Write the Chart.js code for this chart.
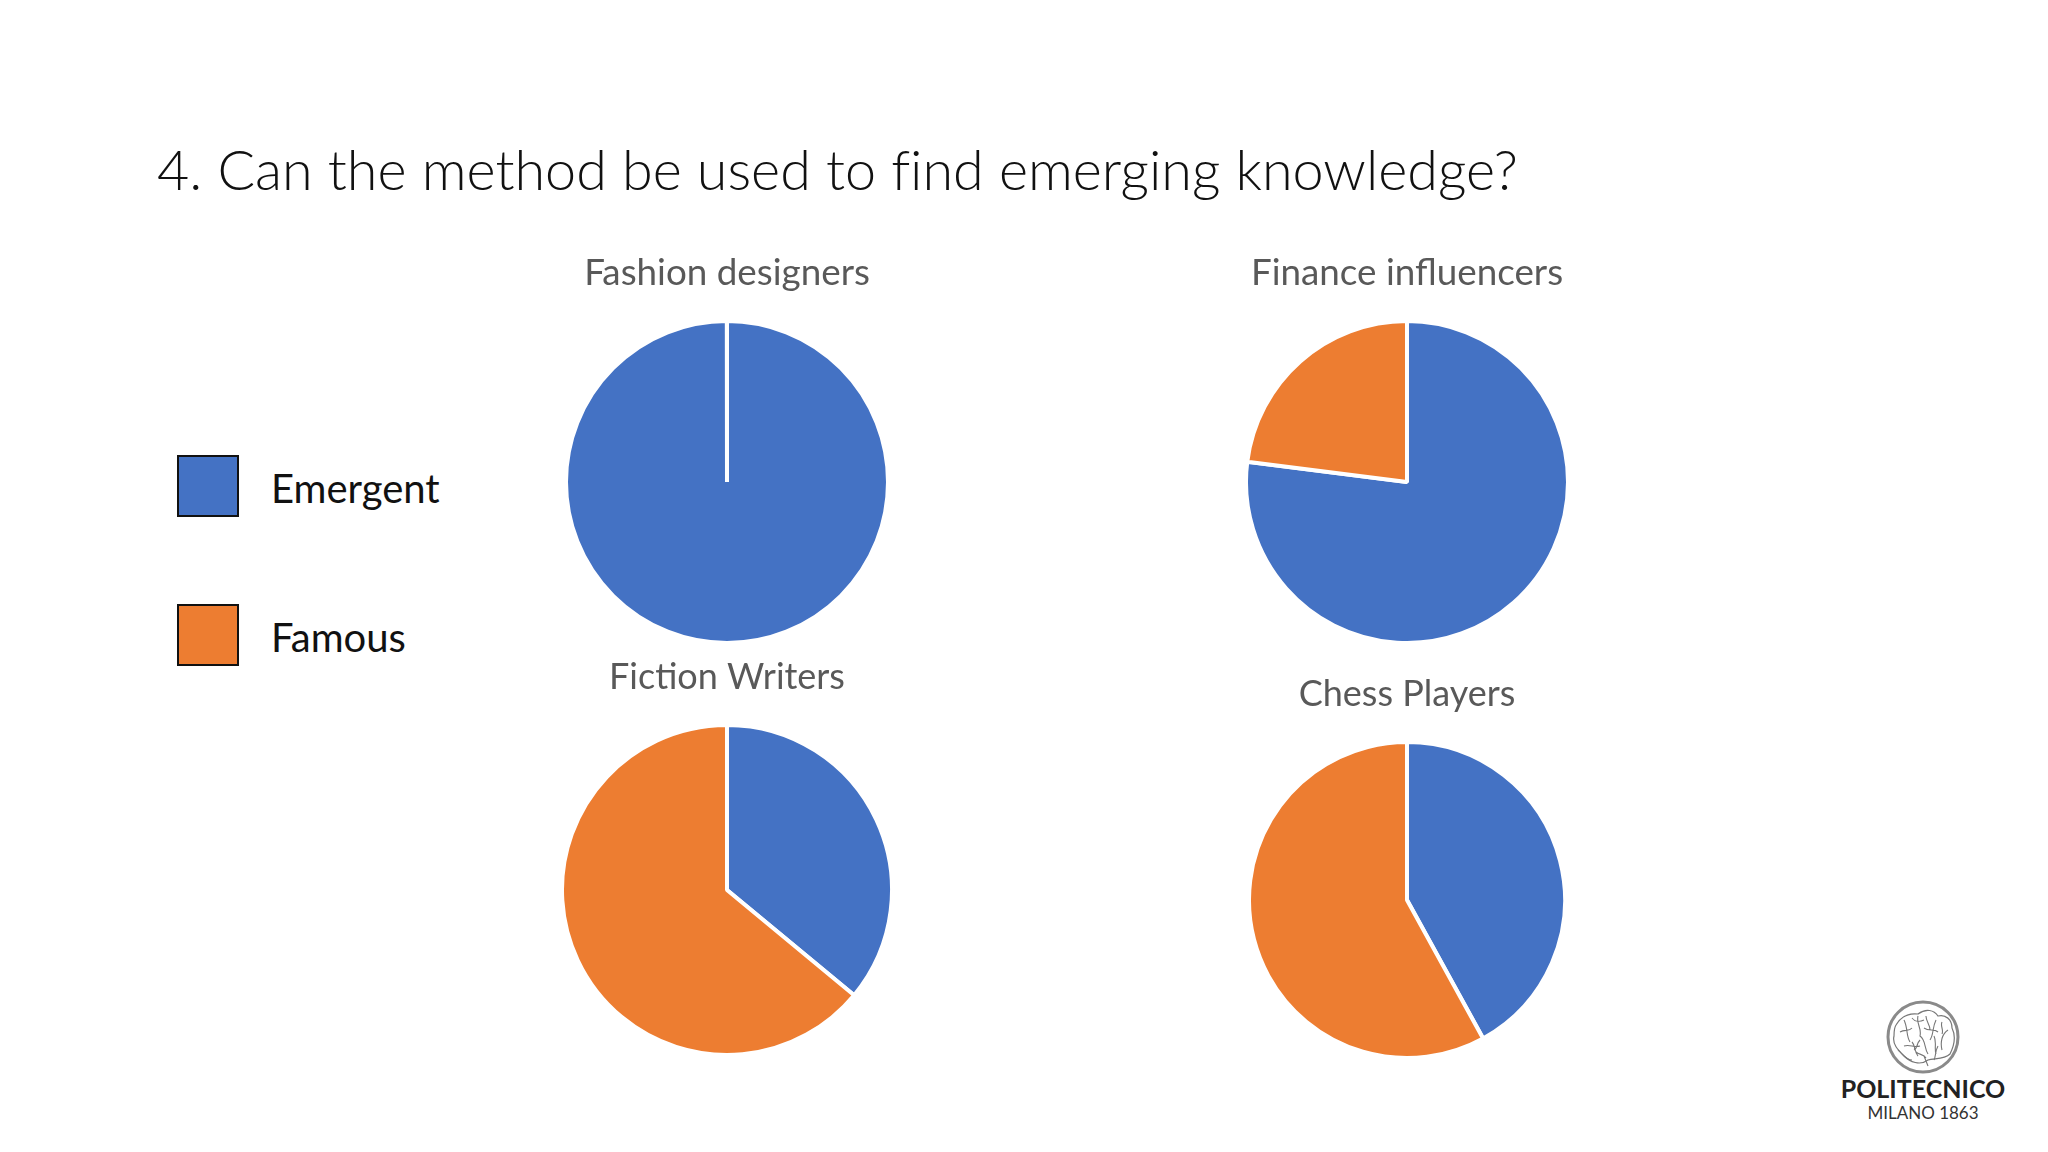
<!DOCTYPE html>
<html>
<head>
<meta charset="utf-8">
<title>Emerging knowledge</title>
<script src="https://cdn.jsdelivr.net/npm/chart.js@4"></script>
<style>
html, body { margin: 0; padding: 0; background: #fff; }
body { width: 2048px; height: 1152px; position: relative; overflow: hidden; font-family: Lato, "Open Sans", sans-serif; }
canvas { position: absolute; }
#heading { position: absolute; left: 157px; top: 133px; margin: 0; font-size: 55.7px; font-weight: 300; line-height: 72px; color: #111; white-space: nowrap; font-variant-ligatures: none; }
.swatch { position: absolute; left: 177px; width: 58px; height: 58px; border: 2px solid #111; }
.legend-label { position: absolute; left: 271px; font-size: 40px; line-height: 46px; color: #111; white-space: nowrap; }
#logo { position: absolute; left: 1800px; top: 980px; width: 248px; height: 172px; }
</style>
</head>
<body>
<h1 id="heading">4. Can the method be used to find emerging knowledge?</h1>
<div id="legend"></div>
<canvas id="pie0"></canvas>
<canvas id="pie1"></canvas>
<canvas id="pie2"></canvas>
<canvas id="pie3"></canvas>
<svg id="logo" viewBox="0 0 248 172">
  <circle cx="123" cy="57" r="35" fill="none" stroke="#8a8a8a" stroke-width="3"/>
  <path d="M96 45c6-10 14-12 22-11 8-6 16-4 20 2 8-2 14 4 14 12 4 8 2 18-2 26-6 6-16 4-22 6-8 6-18 2-24-4-6-6-12-12-10-20 0-4 0-8 2-11z" fill="none" stroke="#777" stroke-width="1.2"/>
  <path d="M104 40c4 8 2 16 6 22M118 36c-2 8 4 12 2 20 6 4 4 12 8 18M136 40c-4 8-2 14-6 20M148 50c-6 4-8 12-6 20M104 66c6-2 10 2 16 0M128 86l-4-10M100 52c5-3 9 0 12-4M112 38c3 4 8 4 12 2M124 48c5 4 10 0 14 4M134 56c3 6 0 12 2 18M112 62c4 4 2 10 6 14M98 70c5 4 8 10 14 10M120 60c-4 4-2 8-6 10M126 36c0 6 4 8 4 14M142 42c-2 4 2 8 0 12M138 66c-3 5-2 10-4 14M116 72c3 3 8 2 10 6" fill="none" stroke="#777" stroke-width="1.1"/>
  <text x="123" y="118" text-anchor="middle" font-family="Lato" font-size="25" font-weight="700" fill="#222">POLITECNICO</text>
  <text x="123" y="139" text-anchor="middle" font-family="Lato" font-size="17" fill="#333">MILANO 1863</text>
</svg>
<script>
const categories = ["Emergent", "Famous"];
const colors = ["#4472C4", "#ED7D31"];
const pieTitles = ["Fashion designers", "Finance influencers", "Fiction Writers", "Chess Players"];
// Emergent values
const emergent = [99.99, 77, 36, 42];
// Famous values. Fashion is really 0, the 0.01 keeps the white seam at 12 o'clock
const famous = [0.01, 23, 64, 58];

const layouts = [
    { cx: 727, cy: 482, r: 159, titleY: 273, titleSize: 36.8 },
    { cx: 1407, cy: 482, r: 159, titleY: 273, titleSize: 36.8 },
    { cx: 727, cy: 890, r: 163, titleY: 678, titleSize: 36 },
    { cx: 1407, cy: 900, r: 156, titleY: 695, titleSize: 36 }
];
const border = 4;

// Legend
const legendEl = document.getElementById("legend");
const legendTops = [455, 604];
const labelTops = [465, 614];
categories.forEach((name, i) => {
    legendEl.innerHTML += `
        <div class="swatch" style="top:${legendTops[i]}px;background:${colors[i]}"></div>
        <div class="legend-label" style="top:${labelTops[i]}px">${name}</div>
    `;
});

// Pies
pieTitles.forEach((title, i) => {
    const p = layouts[i];
    const canvas = document.getElementById("pie" + i);
    const lineH = p.titleSize * 1.2;
    const top = Math.round(p.titleY - lineH / 2);
    const pieTop = p.cy - p.r - border;
    const gap = pieTop - top - lineH;

    canvas.width = 2 * p.r + border * 2;
    canvas.height = p.cy + p.r + border - top;
    canvas.style.left = (p.cx - p.r - border) + "px";
    canvas.style.top = top + "px";

    new Chart(canvas, {
        type: "pie",
        data: {
            labels: categories,
            datasets: [{
                data: [emergent[i], famous[i]],
                backgroundColor: colors,
                borderColor: "#fff",
                borderWidth: border
            }]
        },
        options: {
            responsive: false,
            animation: false,
            devicePixelRatio: 1,
            plugins: {
                legend: { display: false },
                tooltip: { enabled: false },
                title: {
                    display: true,
                    text: title,
                    color: "#595959",
                    font: { family: "Lato", size: p.titleSize, weight: "normal" },
                    padding: { top: 0, bottom: gap }
                }
            }
        }
    });
});
</script>
</body>
</html>
